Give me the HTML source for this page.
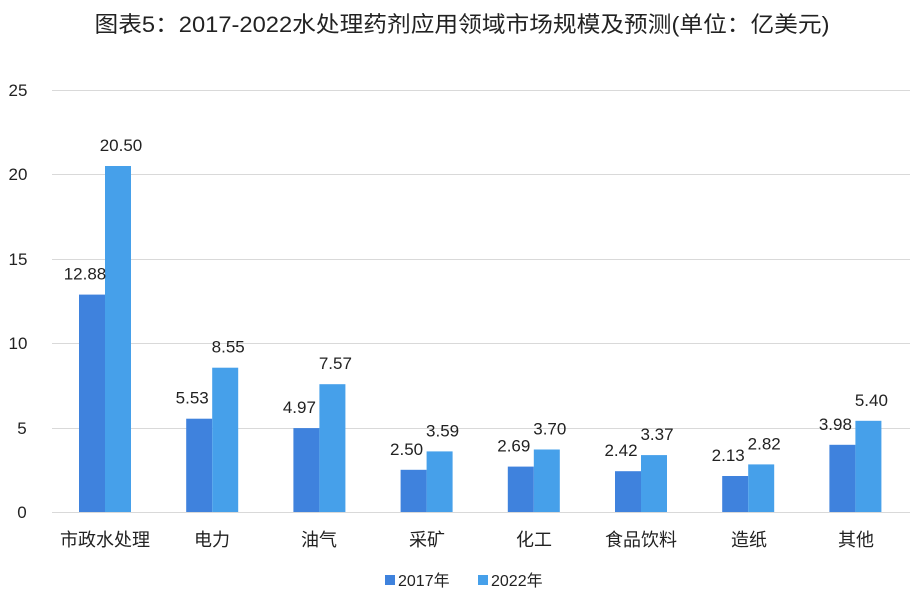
<!DOCTYPE html>
<html><head><meta charset="utf-8"><style>
body{margin:0;background:#fff;}
svg{display:block;font-family:"Liberation Sans","Noto Sans CJK SC",sans-serif;}
</style></head><body>
<svg width="915" height="598" viewBox="0 0 915 598">
<text x="462" y="32" text-anchor="middle" font-size="22" fill="#222" textLength="735" lengthAdjust="spacingAndGlyphs">图表5：2017-2022水处理药剂应用领域市场规模及预测(单位：亿美元)</text>
<g stroke="#d9d9d9" stroke-width="1">
<line x1="52" y1="90.5" x2="910" y2="90.5"/>
<line x1="52" y1="174.5" x2="910" y2="174.5"/>
<line x1="52" y1="259.5" x2="910" y2="259.5"/>
<line x1="52" y1="343.5" x2="910" y2="343.5"/>
<line x1="52" y1="428.5" x2="910" y2="428.5"/>
<line x1="52" y1="512.5" x2="910" y2="512.5"/>
</g>
<g font-size="17" fill="#222" text-anchor="middle">
<text x="18" y="96">25</text><text x="18" y="180">20</text><text x="18" y="265">15</text>
<text x="18" y="349">10</text><text x="22" y="434">5</text><text x="22" y="518">0</text>
</g>
<g fill="#3f82dd">
<rect x="79" y="294.6" width="26" height="217.4"/>
<rect x="186.2" y="418.7" width="26" height="93.3"/>
<rect x="293.4" y="428.1" width="26" height="83.9"/>
<rect x="400.6" y="469.8" width="26" height="42.2"/>
<rect x="507.8" y="466.6" width="26" height="45.4"/>
<rect x="615" y="471.2" width="26" height="40.8"/>
<rect x="722.2" y="476" width="26" height="36"/>
<rect x="829.4" y="444.8" width="26" height="67.2"/>
</g>
<g fill="#46a0ea">
<rect x="105" y="166" width="26" height="346"/>
<rect x="212.2" y="367.7" width="26" height="144.3"/>
<rect x="319.4" y="384.2" width="26" height="127.8"/>
<rect x="426.6" y="451.4" width="26" height="60.6"/>
<rect x="533.8" y="449.5" width="26" height="62.5"/>
<rect x="641" y="455.1" width="26" height="56.9"/>
<rect x="748.2" y="464.4" width="26" height="47.6"/>
<rect x="855.4" y="420.8" width="26" height="91.2"/>
</g>
<g font-size="17" fill="#222" text-anchor="middle">
<text x="85" y="279.6">12.88</text>
<text x="192.2" y="403.7">5.53</text>
<text x="299.4" y="413.1">4.97</text>
<text x="406.6" y="454.8">2.50</text>
<text x="513.8" y="451.6">2.69</text>
<text x="621" y="456.2">2.42</text>
<text x="728.2" y="461">2.13</text>
<text x="835.4" y="429.8">3.98</text>
<text x="121" y="151">20.50</text>
<text x="228.2" y="352.7">8.55</text>
<text x="335.4" y="369.2">7.57</text>
<text x="442.6" y="436.4">3.59</text>
<text x="549.8" y="434.5">3.70</text>
<text x="657" y="440.1">3.37</text>
<text x="764.2" y="449.4">2.82</text>
<text x="871.4" y="405.8">5.40</text>
</g>
<g font-size="18" fill="#222" text-anchor="middle">
<text x="105" y="546">市政水处理</text><text x="212" y="546">电力</text><text x="319" y="546">油气</text>
<text x="427" y="546">采矿</text><text x="534" y="546">化工</text><text x="641" y="546">食品饮料</text>
<text x="749" y="546">造纸</text><text x="856" y="546">其他</text>
</g>
<rect x="385" y="575" width="10" height="10" fill="#3f82dd"/>
<text x="398" y="586" font-size="16" fill="#222">2017年</text>
<rect x="478" y="575" width="10" height="10" fill="#46a0ea"/>
<text x="491" y="586" font-size="16" fill="#222">2022年</text>
</svg>
</body></html>
